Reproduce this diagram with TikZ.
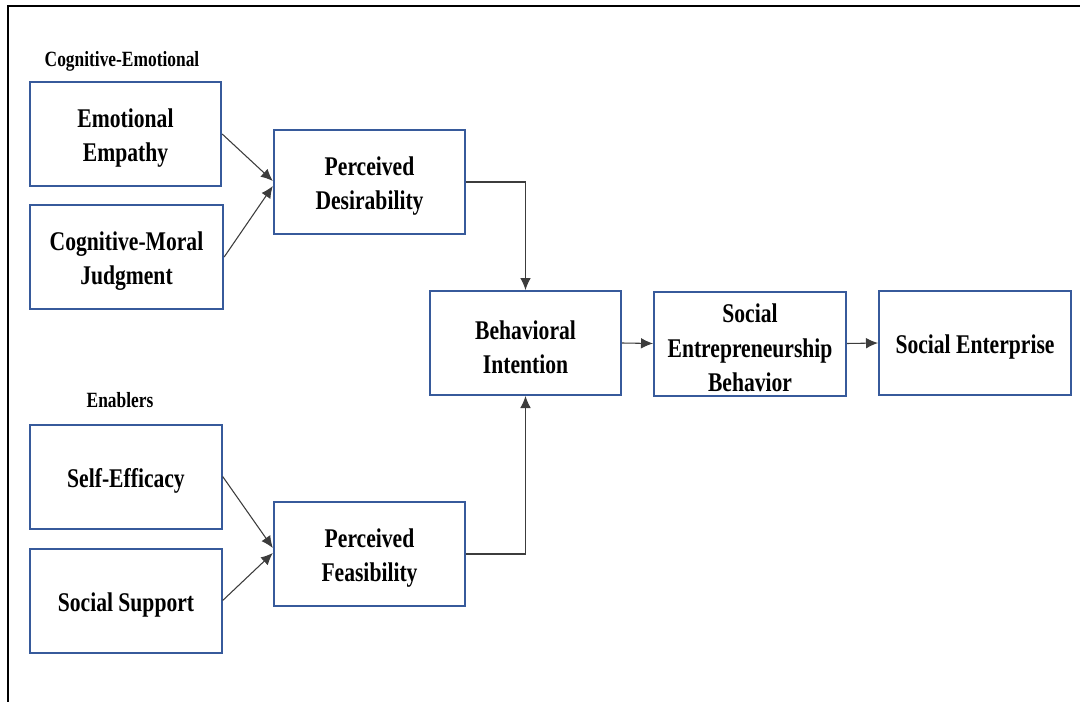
\documentclass[tikz,border=0pt]{standalone}
\usepackage{fontspec}
\setmainfont{Liberation Serif}
\newfontfamily\narrowserif{Liberation Serif}[FakeStretch=0.8]
\usetikzlibrary{arrows.meta}
\definecolor{boxblue}{RGB}{55,90,155}
\definecolor{wire}{RGB}{60,60,60}
% tall invisible strut that pushes the first text line down a little
\newcommand{\firstline}{\rule{0pt}{20.5pt}}
\tikzset{
  construct/.style={draw=boxblue, line width=1.5pt, fill=white, inner sep=0pt,
    minimum width=143.5pt, minimum height=78pt, align=center,
    font=\narrowserif\bfseries\fontsize{20.25}{25.6}\selectfont},
  grouplabel/.style={inner sep=0pt, font=\narrowserif\bfseries\fontsize{16.3}{19}\selectfont},
  link/.style={draw=wire, line width=0.8pt, -{Latex[length=9pt,width=8pt]}},
}
\begin{document}
\begin{tikzpicture}[x=0.75pt, y=-0.75pt]
  \useasboundingbox (0,0) rectangle (1080,702);
  % open frame: top and left edges only
  \draw[line width=2.2pt] (8,702) -- (8,6) -- (1080,6);

  % group headings
  \node[grouplabel] (lblce) at (122,61) {Cognitive-Emotional};
  \node[grouplabel] (lblen) at (120,400) {Enablers};

  % antecedents
  \node[construct] (ee)  at (125.5,134)   {\firstline Emotional\\Empathy};
  \node[construct, minimum width=145pt] (cmj) at (126.5,257) {\firstline Cognitive-Moral\\Judgment};
  \node[construct] (sef) at (126,476.5)   {\firstline Self-Efficacy};
  \node[construct] (ss)  at (126,600.5)   {\firstline Social Support};

  % perceptions
  \node[construct] (pd) at (369.5,182) {\firstline Perceived\\Desirability};
  \node[construct] (pf) at (369.5,554) {\firstline Perceived\\Feasibility};

  % outcome chain
  \node[construct] (bi)  at (525.5,343) {\firstline Behavioral\\Intention};
  \node[construct, minimum width=144pt] (seb) at (750,343.5) {\firstline Social\\Entrepreneurship\\Behavior};
  \node[construct, minimum width=144pt] (se)  at (975,343) {\firstline Social Enterprise};

  % connectors
  \draw[link] (ee.east)  -- ([yshift=0.75pt]pd.west);
  \draw[link] (cmj.east) -- ([yshift=-3pt]pd.west);
  \draw[link] (sef.east) -- ([yshift=4.5pt]pf.west);
  \draw[link] (ss.east)  -- ([yshift=0.75pt]pf.west);
  \draw[link] (pd.east) -| (bi.north);
  \draw[link] (pf.east) -| (bi.south);
  \draw[link] (bi.east)  -- (seb.west);
  \draw[link] (seb.east) -- (se.west);
\end{tikzpicture}
\end{document}
